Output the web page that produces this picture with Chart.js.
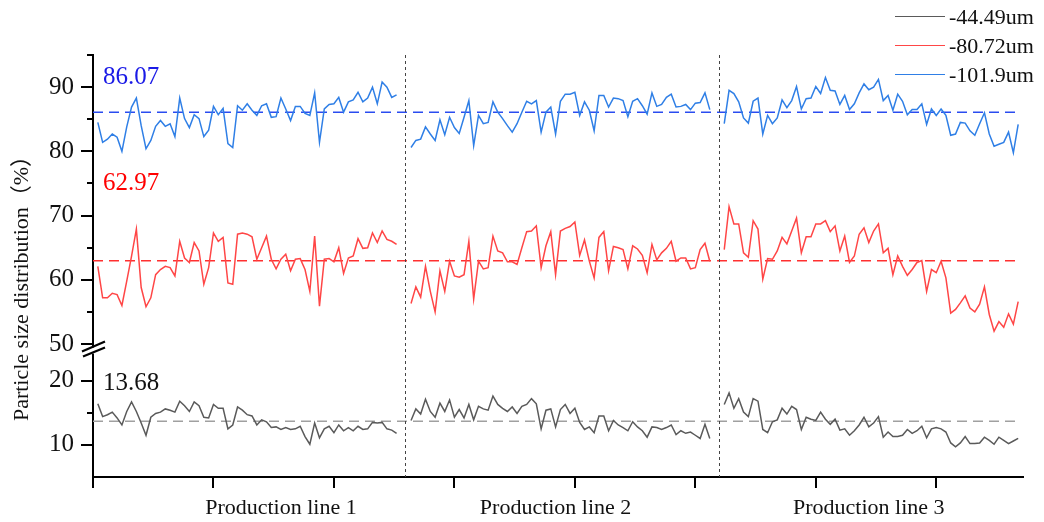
<!DOCTYPE html>
<html>
<head>
<meta charset="utf-8">
<script src="https://cdn.jsdelivr.net/npm/chart.js@4.4.0/dist/chart.umd.min.js"></script>
<style>
html,body{margin:0;padding:0;background:#fff;}
#wrap{position:relative;width:1044px;height:522px;}
#legend{position:absolute;left:895px;top:2px;font-family:'Liberation Serif',serif;font-size:22px;color:#111;}
#legend div{height:29px;display:flex;align-items:center;}
#legend .ln{display:inline-block;width:50px;height:0;border-top:1.5px solid;margin-right:4px;}
</style>
</head>
<body>
<div id="wrap"><canvas id="c" width="1044" height="522"></canvas><div id="legend"></div></div>
<script>
// series / labels
let seriesNames = ['-44.49um','-80.72um','-101.9um']
let means = [13.68, 62.97, 86.07]
let lineNames = ['Production line 1','Production line 2','Production line 3']
let lineStarts = [1, 66, 131]   // sample index where each line begins
let dividers = [64.8, 130]      // sample index of the dotted separators

let grey1 = [16.4,14.4,14.7,15.1,14.2,13.1,15.2,16.7,15.2,13.4,11.5,14.3,14.9,15.1,15.6,15.4,15.1,16.8,16.1,15.2,16.7,16.1,14.3,14.2,16.3,15.7,15.7,12.5,13.1,15.9,15.4,14.7,14.5,13.1,13.9,13.6,12.7,12.8,12.4,12.7,12.4,12.5,12.9,11.3,10.1,13.4,11.1,12.5,12.9,11.9,13.1,12.2,12.7,12.2,12.9,12.4,12.5,13.5,13.4,13.5,12.5,12.3,11.8]
let grey2 = [13.8,15.6,14.8,17.1,15.2,14.3,16.5,15.2,17.0,14.3,15.5,14.2,16.3,13.9,16.0,15.6,15.4,17.6,16.3,15.7,15.2,15.9,14.9,16.0,16.3,17.2,16.4,12.5,15.4,15.6,12.8,15.5,16.3,14.9,15.7,13.5,12.4,12.8,11.9,14.5,14.5,12.2,13.8,13.1,12.7,12.2,13.6,12.8,12.2,11.2,12.8,12.7,12.4,12.7,13.1,11.6,12.2,11.8,12.0,11.5,11.0,13.2,11.0]
let grey3 = [16.3,18.1,15.7,17.2,15.1,14.4,17.2,16.8,12.4,11.9,13.6,13.9,15.7,14.8,16.0,15.5,12.4,14.3,14.0,13.8,15.1,14.0,13.2,14.0,12.3,12.5,11.5,12.2,13.1,14.3,12.8,13.4,14.4,11.2,12.0,11.3,11.3,11.5,12.4,11.8,12.2,12.9,11.1,12.5,12.7,12.5,12.0,10.3,9.7,10.3,11.3,10.2,10.2,10.3,11.2,10.7,10.1,11.2,10.7,10.2,10.6,11.0]

let red1 = [62.1,57.2,57.2,57.9,57.7,56.0,59.8,63.7,67.9,58.8,55.8,57.2,60.8,61.6,62.1,61.9,60.6,66.0,63.4,62.7,65.8,64.5,59.3,61.9,67.3,66.0,66.6,59.5,59.3,67.1,67.3,67.1,66.7,63.2,65.0,66.8,63.2,61.7,63.2,64.0,61.4,63.2,63.3,61.6,58.2,66.8,55.9,63.2,63.3,62.8,65.0,61.0,63.4,63.7,66.4,64.9,65.0,67.3,65.8,67.6,66.3,66.0,65.5]
let red2 = [56.3,58.9,57.3,62.1,58.2,55.0,61.4,58.2,62.9,60.6,60.4,60.8,66.0,57.0,62.9,61.7,61.9,66.8,64.5,64.2,62.8,62.8,62.4,65.0,67.5,67.6,68.4,61.9,65.3,67.5,60.8,67.6,68.0,68.3,69.0,63.8,66.2,62.9,60.3,66.6,67.5,61.4,65.2,65.0,64.7,61.7,65.3,64.8,63.8,61.1,65.5,63.1,64.2,64.9,66.0,62.9,63.4,63.4,61.7,61.9,64.7,65.7,62.9]
let red3 = [64.7,71.4,68.7,68.7,64.2,63.5,69.2,67.9,60.1,63.3,63.2,64.5,66.6,65.6,67.6,69.6,64.2,66.7,66.7,68.7,68.7,69.2,67.5,68.4,64.5,66.8,62.7,63.7,67.1,68.1,65.8,67.6,68.7,64.2,64.9,60.8,63.7,62.1,60.7,61.6,62.7,63.0,58.2,61.6,61.1,62.9,60.3,54.8,55.4,56.4,57.5,55.6,55.0,56.2,58.9,54.6,52.0,53.5,52.6,54.7,53.1,56.6]

let blue1 = [84.5,81.4,81.9,82.7,82.2,80.0,83.8,86.9,88.3,84.0,80.4,81.7,83.9,84.8,83.9,84.3,82.3,88.3,85.1,83.7,85.7,85.1,82.3,83.3,87.0,85.7,86.7,81.2,80.6,87.1,86.4,87.4,86.4,85.6,87.1,87.4,85.3,85.4,88.3,86.6,84.8,87.0,87.0,85.9,85.6,89.1,81.4,86.6,87.3,87.4,88.4,86.1,87.7,88.0,89.2,87.7,88.3,90.0,87.4,90.8,90.0,88.4,88.8]
let blue2 = [80.6,81.7,81.9,83.8,82.7,81.7,84.9,82.6,85.3,83.7,82.8,85.3,87.9,80.9,85.6,84.3,84.5,87.7,86.1,85.1,84.0,83.0,84.3,86.1,87.8,87.4,87.9,83.0,86.1,86.9,82.7,87.8,88.9,88.9,89.2,85.6,87.7,86.4,83.2,88.7,88.7,86.9,88.3,88.2,87.9,85.4,87.8,88.2,87.1,85.8,89.1,87.0,87.3,88.4,88.9,86.9,87.0,87.3,86.5,87.5,87.6,89.1,86.5]
let blue3 = [84.3,89.5,89.0,87.7,85.2,84.4,87.8,88.3,82.7,85.6,84.3,85.2,88.0,86.8,87.9,90.1,86.6,88.2,88.3,90.1,89.0,91.5,89.5,89.4,87.3,88.7,86.5,87.4,89.1,90.5,89.6,90.0,91.2,87.9,88.7,86.4,88.9,87.8,85.7,86.5,86.5,87.4,84.2,86.6,85.6,86.6,85.6,82.5,82.7,84.5,84.4,83.2,82.5,84.3,86.0,82.7,80.8,81.1,81.4,83.0,79.8,84.2]

let seriesColors = ['#5a5a5a','#ff4646','#2f7fe6']
let meanColors = ['#a0a0a0','#ff3030','#2a4cf0']
let meanTextColors = ['#111','#ff0000','#1a1ae6']

let SERIF = '"Liberation Serif", "Times New Roman", serif'

let toPts = (arr, start) => arr.map((v,i) => ({x: start+i, y: v}))

let datasets = []
let groups = [[grey1,grey2,grey3],[red1,red2,red3],[blue1,blue2,blue3]]
groups.forEach((g,s) => {
	g.forEach((arr,k) => {
		datasets.push({
			label: seriesNames[s],
			data: toPts(arr, lineStarts[k]),
			yAxisID: s===0 ? 'yLow' : 'yHigh',
			borderColor: seriesColors[s],
			borderWidth: 1.5,
			pointRadius: 0,
			tension: 0,
			fill: false
		})
	})
	datasets.push({
		label: 'mean'+s,
		data: [{x:0,y:means[s]},{x:192,y:means[s]}],
		yAxisID: s===0 ? 'yLow' : 'yHigh',
		borderColor: meanColors[s],
		borderWidth: 1.5,
		borderDash: [10,6],
		pointRadius: 0
	})
})

// legend (html)
let lg = document.getElementById('legend')
seriesNames.forEach((n,i)=>{
	lg.innerHTML += '<div><span class="ln" style="border-color:'+seriesColors[i]+'"></span>'+n+'</div>'
})

let decor = {
	id:'decor',
	afterDraw(chart){
		let ctx = chart.ctx, ca = chart.chartArea
		let sx = chart.scales.x, hi = chart.scales.yHigh, lo = chart.scales.yLow
		ctx.save()
		// dotted separators
		ctx.strokeStyle = '#444'; ctx.lineWidth = 1; ctx.setLineDash([3,3])
		dividers.forEach(v=>{
			let px = Math.round(sx.getPixelForValue(v))+0.5
			ctx.beginPath(); ctx.moveTo(px, ca.top); ctx.lineTo(px, ca.bottom); ctx.stroke()
		})
		ctx.setLineDash([])
		// minor ticks
		ctx.strokeStyle = '#000'; ctx.lineWidth = 2
		;[hi,lo].forEach(s=>{
			s.ticks.forEach(t=>{
				if(t.value % 10 === 0) return
				if(s === lo && (t.value <= s.min || t.value >= s.max)) return
				let py = Math.round(s.getPixelForValue(t.value))
				ctx.beginPath(); ctx.moveTo(ca.left-6, py); ctx.lineTo(ca.left, py); ctx.stroke()
			})
		})
		// axis break
		let j = hi.bottom
		ctx.fillStyle = '#fff'
		ctx.fillRect(ca.left-4, j-1, 8, 6)
		ctx.lineWidth = 2.2
		ctx.beginPath(); ctx.moveTo(ca.left-11, j+3); ctx.lineTo(ca.left+12, j-7); ctx.stroke()
		ctx.beginPath(); ctx.moveTo(ca.left-10, j+8); ctx.lineTo(ca.left+12, j-1); ctx.stroke()
		// mean value labels
		ctx.font = '25px '+SERIF
		ctx.textAlign = 'left'; ctx.textBaseline = 'middle'
		let labelAt = [[lo,19.6],[hi,75],[hi,91.5]]
		labelAt.forEach((a,i)=>{
			ctx.fillStyle = meanTextColors[i]
			ctx.fillText(means[i].toFixed(2), ca.left+10, a[0].getPixelForValue(a[1]))
		})
		// production line labels
		ctx.fillStyle = '#111'; ctx.font = '22px '+SERIF; ctx.textAlign = 'center'
		let labelX = [39, 96, 161]
		lineNames.forEach((n,i)=>{
			ctx.fillText(n, sx.getPixelForValue(labelX[i]), 508)
		})
		// y title
		ctx.translate(22, 283); ctx.rotate(-Math.PI/2)
		ctx.font = '22px '+SERIF+', "Noto Sans CJK SC"'
		ctx.fillText('Particle size distribution（%）', 0, 0)
		ctx.restore()
	}
}

let yCommon = {
	type:'linear', position:'left', stack:'ys', offset:false,
	border:{display:true, color:'#000', width:2},
	afterFit: s => { s.width = 93 }
}

new Chart(document.getElementById('c'), {
	type:'line',
	data:{datasets:datasets},
	options:{
		responsive:false,
		animation:false,
		layout:{padding:{top:55, right:21, left:0, bottom:0}},
		plugins:{legend:{display:false}, tooltip:{enabled:false}},
		scales:{
			x:{
				type:'linear', min:0, max:193,
				ticks:{display:false, stepSize:25, includeBounds:false},
				grid:{drawOnChartArea:false, tickLength:11, color:'#000', lineWidth:2},
				border:{display:true, color:'#000', width:2},
				afterFit: s => { s.height = 45 }
			},
			yLow:Object.assign({}, yCommon, {
				min:5, max:25, stackWeight:20,
				ticks:{stepSize:5, autoSkip:false, includeBounds:false, padding:7, color:'#111', font:{family:SERIF, size:25},
					callback: v => (v===10||v===20) ? v : ''},
				grid:{drawOnChartArea:false, tickLength:12, lineWidth:2,
					color: c => (c.tick && (c.tick.value===10||c.tick.value===20)) ? '#000' : 'rgba(0,0,0,0)'}
			}),
			yHigh:Object.assign({}, yCommon, {
				min:49.3, max:95, stackWeight:45.7,
				ticks:{stepSize:5, autoSkip:false, includeBounds:false, padding:7, color:'#111', font:{family:SERIF, size:25},
					callback: v => v % 10 === 0 ? v : ''},
				grid:{drawOnChartArea:false, tickLength:12, lineWidth:2,
					color: c => (c.tick && c.tick.value % 10 === 0) ? '#000' : 'rgba(0,0,0,0)'}
			})
		}
	},
	plugins:[decor]
})
</script>
</body>
</html>
